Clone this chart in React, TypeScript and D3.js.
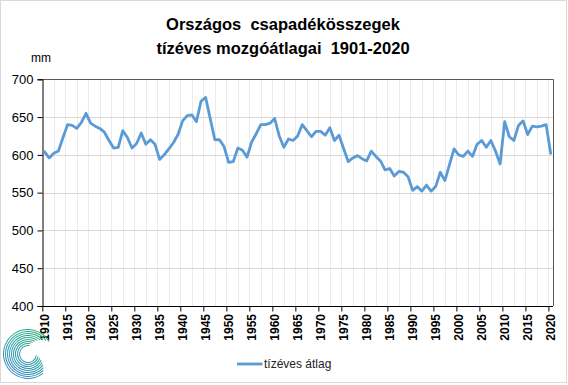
import React, { useRef, useEffect } from 'react';
import * as d3 from 'd3';

// ten-year moving average of the national precipitation total (mm), 1910..2020
const years: number[] = d3.range(1910, 2021);
const avgValues: number[] = [
  604, 596, 602, 605, 623, 640, 639, 635, 643, 655,
  642, 638, 635, 630, 619, 609, 610, 632, 623, 609,
  615, 629, 614, 620, 614, 594, 600, 608, 616, 627,
  645, 652, 653, 644, 671, 676, 648, 620, 620, 611,
  590, 591, 609, 606, 597, 617, 628, 640, 640, 642,
  648, 625, 610, 621, 619, 625, 640, 632, 624, 631,
  631, 626, 636, 619, 626, 608, 591, 596, 599, 595,
  592, 605, 598, 592, 580, 582, 572, 578, 577, 571,
  553, 558, 552, 560, 552, 558, 577, 566, 587, 608,
  600, 598, 605, 598, 614, 619, 610, 619, 605, 588,
  644, 624, 619, 639, 645, 627, 638, 637, 638, 640,
  602,
];
const yTicks: number[] = [400, 450, 500, 550, 600, 650, 700];
const titleLines: string[] = ['Országos  csapadékösszegek', 'tízéves mozgóátlagai  1901-2020'];
const seriesName = 'tízéves átlag';

const W = 568;
const H = 385;

const App = () => {
  const ref = useRef<SVGSVGElement>(null);

  useEffect(() => {
    const svg = d3.select(ref.current);
    svg.selectAll('*').remove();

    const left = 42.3, right = 553, top = 79.3, bottom = 306;
    const font = '"Liberation Sans", Arial, sans-serif';
    const lineColor = '#5b9bd5';

    const x = d3.scaleBand<number>().domain(years).range([left, right]).padding(0);
    const xi = d3.scaleLinear().domain([0, years.length]).range([left, right]);
    const y = d3.scaleLinear().domain([400, 700]).range([bottom, top]);

    // outer frame
    svg.append('rect')
      .attr('x', 0.5).attr('y', 0.5)
      .attr('width', W - 2).attr('height', H - 3)
      .attr('fill', '#fff').attr('stroke', '#d9d9d9');

    // title
    svg.append('g')
      .selectAll('text')
      .data(titleLines)
      .join('text')
      .attr('x', 283)
      .attr('y', (d, i) => 30 + i * 24)
      .attr('text-anchor', 'middle')
      .style('font-family', font)
      .style('font-size', '16.5px')
      .style('font-weight', 'bold')
      .style('white-space', 'pre')
      .attr('fill', '#000')
      .text((d) => d);

    svg.append('text')
      .attr('x', 31).attr('y', 62)
      .style('font-family', font).style('font-size', '12px')
      .attr('fill', '#000')
      .text('mm');

    // vertical gridlines every 2.5 categories
    const vGrid = d3.range(2.5, years.length, 2.5);
    svg.append('g')
      .selectAll('line')
      .data(vGrid)
      .join('line')
      .attr('x1', (d) => Math.round(xi(d)) + 0.5)
      .attr('x2', (d) => Math.round(xi(d)) + 0.5)
      .attr('y1', top).attr('y2', bottom)
      .attr('stroke', '#ebebeb');

    // horizontal gridlines
    svg.append('g')
      .selectAll('line')
      .data(yTicks.filter((t) => t > 400 && t < 700))
      .join('line')
      .attr('x1', left).attr('x2', right)
      .attr('y1', (d) => Math.round(y(d)) + 0.5)
      .attr('y2', (d) => Math.round(y(d)) + 0.5)
      .attr('stroke', '#d9d9d9');

    // top and right frame of plot area
    svg.append('path')
      .attr('d', `M${left},${Math.round(top) + 0.5}H${Math.round(right) + 0.5}V${bottom}`)
      .attr('fill', 'none')
      .attr('stroke', '#595959');

    // y axis
    const yAxis = d3.axisLeft(y).tickValues(yTicks).tickSize(5).tickPadding(4);
    const gy = svg.append('g')
      .attr('transform', `translate(${Math.round(left) + 0.5},0)`)
      .call(yAxis);
    gy.select('.domain').attr('stroke', '#000');
    gy.selectAll('.tick line').attr('stroke', '#000');
    gy.selectAll('.tick text')
      .style('font-family', font)
      .style('font-size', '13px')
      .attr('fill', '#000');

    // x axis tick marks at category boundaries every 5 years
    const xTickAxis = d3.axisBottom(xi)
      .tickValues(d3.range(0, years.length, 5))
      .tickSize(5)
      .tickFormat(() => '');
    const gx = svg.append('g')
      .attr('transform', `translate(0,${Math.round(bottom) + 0.5})`)
      .call(xTickAxis);
    gx.select('.domain').attr('stroke', '#000').attr('d', `M${left},0H${right}`);
    gx.selectAll('.tick line').attr('stroke', '#000');

    // x labels, rotated
    svg.append('g')
      .selectAll('text')
      .data(years.filter((d) => d % 5 === 0))
      .join('text')
      .attr('transform', (d) => `translate(${(x(d) as number) + x.bandwidth() / 2},${bottom + 8}) rotate(-90)`)
      .attr('text-anchor', 'end')
      .attr('dy', '0.36em')
      .style('font-family', font)
      .style('font-size', '12px')
      .style('font-weight', 'bold')
      .attr('fill', '#000')
      .text((d) => d);

    // the series
    const line = d3.line<number>()
      .x((d, i) => (x(years[i]) as number) + x.bandwidth() / 2)
      .y((d) => y(d));

    svg.append('path')
      .datum(avgValues)
      .attr('d', line)
      .attr('fill', 'none')
      .attr('stroke', lineColor)
      .attr('stroke-width', 2.8)
      .attr('stroke-linejoin', 'round')
      .attr('stroke-linecap', 'round');

    // legend
    svg.append('line')
      .attr('x1', 237).attr('x2', 262.5)
      .attr('y1', 364).attr('y2', 364)
      .attr('stroke', lineColor).attr('stroke-width', 2.8);
    svg.append('text')
      .attr('x', 264).attr('y', 368)
      .style('font-family', font).style('font-size', '12px')
      .attr('fill', '#222')
      .text(seriesName);

    // logo: spiral of thin rings, green (top right) to blue (bottom left)
    const defs = svg.append('defs');
    const grad = defs.append('linearGradient')
      .attr('id', 'logoGrad')
      .attr('gradientUnits', 'userSpaceOnUse')
      .attr('x1', 20).attr('y1', -24)
      .attr('x2', -18).attr('y2', 24);
    grad.append('stop').attr('offset', '0%').attr('stop-color', '#2fae6a');
    grad.append('stop').attr('offset', '45%').attr('stop-color', '#27a59c');
    grad.append('stop').attr('offset', '100%').attr('stop-color', '#3b83cc');

    const rings = d3.range(9);
    const arc = d3.arc<number>()
      .innerRadius((i) => 8 + i * 2)
      .outerRadius((i) => 9 + i * 2)
      .startAngle((i) => Math.PI * (0.55 + i * 0.03))
      .endAngle((i) => Math.PI * (2.05 + i * 0.035));

    svg.append('g')
      .attr('transform', 'translate(28,354)')
      .selectAll('path')
      .data(rings)
      .join('path')
      .attr('d', (d) => arc(d) as string)
      .attr('fill', 'url(#logoGrad)');
  }, []);

  return (
    <svg
      ref={ref}
      width={W}
      height={H}
      style={{ position: 'absolute', left: 0, top: 0, background: '#fff' }}
    />
  );
};

export default App;
